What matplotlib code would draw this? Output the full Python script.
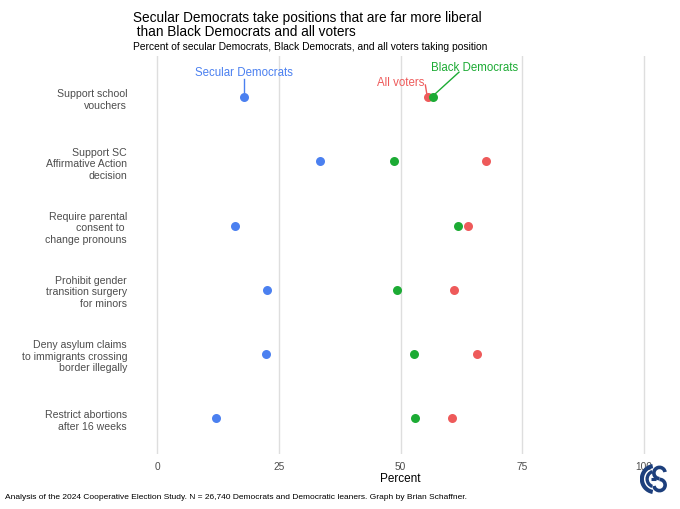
import matplotlib
matplotlib.use("Agg")
import matplotlib.pyplot as plt
from matplotlib.patches import Arc
import numpy as np

plt.rcParams['font.family'] = ['Liberation Sans', 'DejaVu Sans']

categories = [
    "Support school\nvouchers",
    "Support SC\nAffirmative Action\ndecision",
    "Require parental\nconsent to \nchange pronouns",
    "Prohibit gender\ntransition surgery\nfor minors",
    "Deny asylum claims\nto immigrants crossing\nborder illegally",
    "Restrict abortions\nafter 16 weeks",
]
secular = [17.8, 33.4, 16.0, 22.5, 22.3, 12.1]
black = [56.6, 48.7, 61.7, 49.3, 52.7, 53.0]
all_voters = [55.6, 67.6, 63.9, 61.0, 65.7, 60.6]
xticks = [0, 25, 50, 75, 100]
xticklabels = ["0", "25", "50", "75", "100"]

c_sec = "#4B80F0"
c_blk = "#1CAB34"
c_all = "#EE5A5A"

fig = plt.figure(figsize=(6.8, 5.1), dpi=100)
ax = fig.add_axes([0.195, 0.108, 0.788, 0.78])

y = np.arange(len(categories))
ax.scatter(secular, y, s=42, color=c_sec, zorder=3, linewidths=0)
ax.scatter(all_voters, y, s=42, color=c_all, zorder=3, linewidths=0)
ax.scatter(black, y, s=42, color=c_blk, zorder=4, linewidths=0)

ax.set_xlim(-5, 105)
ax.set_ylim(len(categories) - 1 + 0.56, -0.64)
ax.set_xticks(xticks)
ax.set_xticklabels(xticklabels, fontsize=7.3, color="#4d4d4d")
ax.set_yticks(y)
ax.set_yticklabels(categories, fontsize=7.6, color="#4d4d4d")
ax.tick_params(axis='both', length=0)
ax.tick_params(axis='x', pad=5)
ax.tick_params(axis='y', pad=4)
for s in ax.spines.values():
    s.set_visible(False)
ax.grid(axis='x', color="#dedede", linewidth=1)
ax.grid(axis='y', visible=False)
ax.set_axisbelow(True)
ax.set_xlabel("Percent", fontsize=8.5, color="black", labelpad=1)

# annotations (labels for the first row)
ax.text(secular[0], -0.39, "Secular Democrats", fontsize=8.3, color=c_sec, ha='center', va='center')
ax.plot([secular[0], secular[0]], [-0.28, -0.08], color=c_sec, lw=1, zorder=2)

ax.text(50.1, -0.23, "All voters", fontsize=8.3, color=c_all, ha='center', va='center')
ax.plot([55.1, 55.4], [-0.19, -0.05], color=c_all, lw=1, zorder=2)

ax.text(65.1, -0.47, "Black Democrats", fontsize=8.3, color=c_blk, ha='center', va='center')
ax.plot([62.0, 56.8], [-0.39, -0.03], color=c_blk, lw=1, zorder=2)

# titles
fig.text(133/680, 1 - 25/510, "Secular Democrats take positions that are far more liberal\n than Black Democrats and all voters",
         fontsize=9.8, color="black", ha='left', va='center', linespacing=1.05)
fig.text(133/680, 1 - 47/510, "Percent of secular Democrats, Black Democrats, and all voters taking position",
         fontsize=7.4, color="black", ha='left', va='center')
fig.text(5/680, 1 - 498/510,
         "Analysis of the 2024 Cooperative Election Study. N = 26,740 Democrats and Democratic leaners. Graph by Brian Schaffner.",
         fontsize=6, color="black", ha='left', va='center')

# logo approximation
lax = fig.add_axes([640/680, 1 - 495/510, 30/680, 30/510])
lax.set_xlim(-1, 1)
lax.set_ylim(-1, 1)
lax.set_aspect('equal')
lax.axis('off')
navy = "#1d3f7c"
lax.add_patch(Arc((0, 0), 1.75, 1.75, theta1=100, theta2=260, color=navy, lw=3.0))
lax.add_patch(Arc((0, 0), 1.05, 1.05, theta1=110, theta2=250, color=navy, lw=2.4))
lax.plot([-0.3, 0.05], [0, 0], color=navy, lw=2.2, solid_capstyle='butt')
lax.add_patch(Arc((0.3, 0.4), 0.75, 0.75, theta1=10, theta2=270, color=navy, lw=2.6))
lax.add_patch(Arc((0.3, -0.4), 0.75, 0.75, theta1=190, theta2=450, color=navy, lw=2.6))

fig.savefig("out.png", dpi=100, facecolor="white")
